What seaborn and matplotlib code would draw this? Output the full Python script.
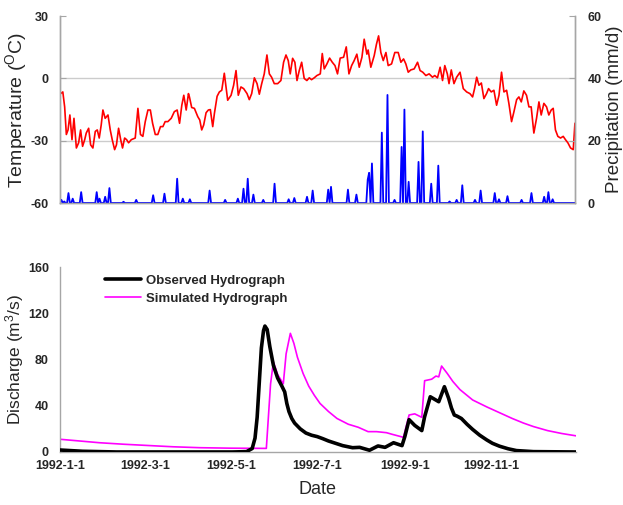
import numpy as np
import pandas as pd
import seaborn as sns
import matplotlib.pyplot as plt

sns.set_style('white')
plt.rcParams['font.family'] = ['Liberation Sans', 'DejaVu Sans']
plt.rcParams['mathtext.default'] = 'regular'
plt.rcParams['axes.unicode_minus'] = False

start = pd.Timestamp('1992-01-01')
end = pd.Timestamp('1992-12-31')

# daily temperature (day of year, deg C)
temp_day = [0.5, 2, 3.3, 4.5, 5.7, 7, 8.5, 9.9, 11.6, 13.2, 14.6, 16, 17.5, 18.6, 20.3, 21.7, 23.3, 25, 26.4, 27.8,
            29.2, 30.4, 32, 34, 35.6, 37, 38.7, 40, 41.5, 43, 44.3, 45.8, 47.2, 48.6, 50.5, 53.3, 55.2, 57, 58.7, 60.4,
            62.3, 64, 65.6, 67.5, 69.3, 71.2, 72.9, 74.5, 76.4, 78.8, 81, 83, 84.7, 86.3, 87.7, 89.4, 91, 91.7, 93.3, 95.2,
            97.6, 99, 100.4, 101.8, 103.5, 105.1, 106.5, 108.2, 109.4, 111.3, 112.9, 114.6, 116.4, 118.8, 121.2, 123, 124.7, 126.3, 128.2, 130.1,
            132.5, 134.1, 135.8, 137.7, 139.6, 141.2, 142.9, 144.7, 146.6, 148.3, 149.9, 151.8, 154.2, 156.5, 158.4, 160.1, 161.7, 163.1, 164.8, 166.4,
            167.9, 169.5, 171.2, 173, 174.9, 176.6, 178.2, 180.1, 182, 184.4, 185.8, 187.2, 189.1, 191, 192.9, 194.8, 196.6, 198.5, 200.9, 202.8,
            204.7, 206.6, 208.4, 210.3, 212, 213.9, 215.5, 217.4, 218.3, 220.2, 222.6, 224.2, 225.7, 227.3, 229, 230.9, 232.5, 234.9, 237.2, 239.6,
            241.5, 243.4, 245, 246.7, 248.5, 250.9, 253.3, 255.1, 257, 259.2, 261.5, 263.9, 265.5, 267.4, 269.3, 271, 272.6, 274.4, 275.6, 277.2,
            279.1, 281, 283.4, 285.7, 288.1, 290.4, 292.3, 293.7, 295.2, 296.8, 298.5, 300.3, 302.2, 303.6, 305.5, 307.4, 309.3, 311, 312.8, 314.5,
            316.4, 318, 319.9, 321.6, 323.5, 325.1, 326.8, 328.6, 330.5, 332.2, 333.8, 335.7, 337.6, 339.3, 340.9, 342.8, 344.7, 346.3, 348, 349.4,
            351, 352.7, 354.6, 356.5, 358.1, 359.8, 361.7, 363.6, 364.8]
temp_val = [-7.3, -6.5, -13.7, -27, -24.8, -17.6, -29.5, -19.2, -33.5, -31, -24.8, -32.7, -29.5, -26.3, -24, -32, -33.5, -25.5, -24.8, -28.7,
            -22.4, -15.2, -19.2, -17.6, -24.8, -29.5, -34.3, -32, -24, -29.5, -33.5, -28.7, -29.5, -31, -29.5, -28.7, -14.4, -27, -27.9, -20.8,
            -15.2, -15.2, -21.6, -27, -27, -23.2, -23.2, -20.8, -20.8, -19.2, -16, -15.2, -21.6, -12.9, -8.1, -15.2, -7.3, -8.9, -14, -14.4,
            -18.4, -20, -24.8, -22.4, -16.5, -15.2, -15, -23.2, -16.8, -8.6, -6.5, -5.7, 2.5, -10.5, -8.1, -3.3, 3.8, -8.1, -4.1, -4.9,
            -7.3, -10.2, -7.3, 0.3, -2.5, -7.6, -2.5, 2.2, 11.3, 2.2, 0.6, -2.5, -2.5, -1, 7.8, 11.3, 8.6, 2.2, 9.7, 7.8,
            -1, 3.8, 7.8, 0, -1, 0.3, -0.6, 0.3, 1.4, 2.2, 12, 4.6, 7, 9.8, 7.8, 6.2, 2.2, 9.8, 10.2, 15.2,
            2.2, 6.2, 8.6, 11.7, 5.4, 10.2, 18.9, 11.7, 13.7, 5.4, 11, 16.5, 20.5, 12.5, 8.6, 12.5, 6.2, 7, 12.5, 12.5,
            7.8, 9.4, 7, 3, 4.1, 4.6, 7.8, 3.8, 3, 1.4, 2.2, 0.6, 1.4, 0.3, 5.4, -1, 6.2, 2.2, -2.5, 4.1,
            -2.5, 0.6, 3, -4.9, -6.5, -7.3, -8.9, -4.9, 0.6, -3.3, -2.2, -9.7, -7.3, -4.9, -6.5, -5.7, -12.9, -8.1, 3, -6.5,
            -5.7, -12, -20.8, -16, -10.2, -8.9, -11.3, -6, -8.1, -13.7, -13.7, -26.3, -19.2, -11.3, -17.6, -12, -13.7, -17.6, -15.2, -14.4,
            -24.8, -27.9, -28.7, -27.9, -29.5, -31, -33.5, -34.3, -21.6]

# rainy days (day of year, mm/d); all other days are dry
rain_day = [1, 3, 6, 9, 15, 26, 28, 32, 35, 45, 54, 66, 74, 83, 87, 92, 106, 117, 126, 130,
            133, 137, 144, 152, 162, 166, 175, 179, 190, 192, 204, 210, 218, 219, 221, 228, 232, 237, 242, 244,
            247, 254, 257, 263, 268, 276, 281, 285, 294, 298, 308, 311, 317, 327, 334, 343, 346, 349]
rain_val = [1, 0.5, 3.2, 1.4, 3.5, 3.5, 1.4, 2, 4.8, 0.4, 1, 2.5, 3, 7.8, 1.4, 1.2, 4, 1, 1.4, 4.6,
            7.8, 2.7, 1, 6.2, 1.2, 1.6, 2, 4, 4.3, 5.2, 4.3, 2.7, 7.5, 9.7, 12.7, 22.6, 34.7, 1, 18, 30,
            6.8, 13.2, 23, 6.2, 12, 0.5, 1, 5.7, 1, 4, 3.2, 1.2, 2.2, 1, 3.2, 2, 3.5, 1.2]

# discharge (day of year, m3/s)
obs_day = [0, 16, 40, 122, 132, 136, 138, 139.5, 141, 142.5, 144, 145, 146.6, 148.5, 151, 154, 157, 159, 160.5, 162,
           164, 166, 170, 174, 178, 182, 186, 190, 195, 200, 207, 212, 219, 225, 230, 236, 242, 244, 247, 251,
           256, 258, 262, 268, 272, 275, 277, 279, 281, 284, 288, 292, 297, 302, 306, 311, 317, 323, 335, 365]
obs_val = [1.7, 0.6, 0, 0, 0.3, 3, 12, 30, 60, 90, 105, 109, 106, 91, 75, 64, 57, 52, 42, 35,
           29, 25, 20, 16.4, 14.5, 13.3, 11.5, 9.5, 7.5, 5.5, 3.7, 4, 1.5, 5.2, 4, 8, 5.5, 13.3, 28, 23,
           18.5, 30.5, 47.8, 43.5, 56.5, 46.4, 38, 32, 31, 29, 24, 19.5, 14.5, 10.4, 7.5, 5, 2.8, 1.2, 0.3, 0]
sim_day = [0, 14, 28, 45, 64, 80, 99, 120, 146, 149, 151, 154, 158, 160, 163, 165.5, 168, 172, 176, 180,
           184, 190, 196, 204, 211, 218, 224, 231, 235, 243, 247, 251, 256, 258, 263, 266, 268, 270, 274, 278,
           283, 288, 292, 297, 302, 311, 320, 328, 335, 345, 355, 365]
sim_val = [11, 9.5, 8, 6.7, 5.5, 4.5, 3.7, 3.3, 3.1, 59, 78, 67, 59, 85, 102.7, 94, 82, 68, 57, 49,
           42, 35, 29, 24, 21.4, 17.6, 17.6, 16.7, 15.3, 12.7, 32, 33, 30, 61.7, 63, 65.7, 65, 74.4, 68, 61,
           54, 49, 45, 42, 39, 34, 29, 25, 22, 18.5, 16, 14]

tick_dates = ['1992-1-1', '1992-3-1', '1992-5-1', '1992-7-1', '1992-9-1', '1992-11-1']

temp = pd.DataFrame({'Date': start + pd.to_timedelta(temp_day, unit='D'), 'Temp': temp_val})
rain = pd.Series(0.0, index=range(366))
rain[rain_day] = rain_val
rain = pd.DataFrame({'Date': start + pd.to_timedelta(rain.index, unit='D'), 'Rain': rain.values})
flow = pd.concat([
    pd.DataFrame({'Date': start + pd.to_timedelta(obs_day, unit='D'), 'Q': obs_val, 'Series': 'Observed Hydrograph'}),
    pd.DataFrame({'Date': start + pd.to_timedelta(sim_day, unit='D'), 'Q': sim_val, 'Series': 'Simulated Hydrograph'}),
])

grey = '#a6a6a6'
ticks = [pd.Timestamp(d) for d in tick_dates]

def styleAxis(ax):
	ax.tick_params(direction='in', length=4, color=grey, labelsize=9, pad=6)
	for lab in ax.get_xticklabels() + ax.get_yticklabels():
		lab.set_fontweight('bold')
	for s in ax.spines.values():
		s.set_color(grey)
		s.set_linewidth(1)

fig = plt.figure(figsize=(6.23, 5.05), dpi=100)
ax1 = fig.add_axes([0.0963, 0.598, 0.827, 0.370])
ax2 = ax1.twinx()

sns.lineplot(data=temp, x='Date', y='Temp', ax=ax1, color='#ff0000', lw=1.2)
sns.lineplot(data=rain, x='Date', y='Rain', ax=ax2, color='#0000ff', lw=1.3)

ax1.set_xlim(start, end)
ax1.set_ylim(-60, 30)
ax1.set_yticks([-60, -30, 0, 30])
ax2.set_ylim(0, 60)
ax2.set_yticks([0, 20, 40, 60])
ax1.set_xticks(ticks)
ax1.set_xticklabels([])
ax1.set_xlabel('')
ax2.set_xlabel('')
for y in [-30, 0]:
	ax1.axhline(y, color='#cccccc', lw=1, zorder=0)
ax1.set_ylabel('Temperature ($^{O}$C)', fontsize=14, labelpad=1)
ax2.set_ylabel('Precipitation (mm/d)', fontsize=13.5, labelpad=3)
ax1.spines['top'].set_visible(False)
ax2.spines['top'].set_visible(False)
styleAxis(ax1)
styleAxis(ax2)
ax1.tick_params(axis='y', pad=8)
ax2.tick_params(axis='y', pad=9)

ax3 = fig.add_axes([0.0963, 0.105, 0.828, 0.366])
sns.lineplot(data=flow, x='Date', y='Q', hue='Series', ax=ax3,
	palette={'Observed Hydrograph': 'black', 'Simulated Hydrograph': '#ff00ff'},
	size='Series', sizes={'Observed Hydrograph': 2.6, 'Simulated Hydrograph': 1.2})
# observed line sits on top of the simulated one, as in the original
ax3.lines[0].set_zorder(3)
ax3.set_xlim(start, end)
ax3.set_ylim(0, 160)
ax3.set_yticks([0, 40, 80, 120, 160])
ax3.set_xticks(ticks)
ax3.set_xticklabels(tick_dates)
ax3.set_xlabel('Date', fontsize=13, labelpad=6)
ax3.set_ylabel('Discharge (m$^{3}$/s)', fontsize=12.5, labelpad=1)
ax3.spines['top'].set_visible(False)
ax3.spines['right'].set_visible(False)
styleAxis(ax3)
ax3.tick_params(axis='y', pad=8)
leg = ax3.legend(loc='upper left', bbox_to_anchor=(0.088, 0.96), frameon=False,
	handlelength=2.7, handletextpad=0.4, labelspacing=0.45, borderaxespad=0, borderpad=0,
	prop={'weight': 'bold', 'size': 9.5})

fig.savefig('out.png', dpi=100)
